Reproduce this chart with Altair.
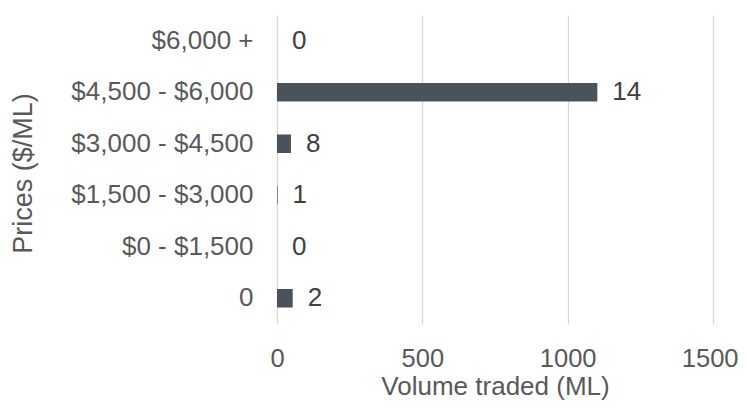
import altair as alt
import pandas as pd

categories = ["$6,000 +", "$4,500 - $6,000", "$3,000 - $4,500", "$1,500 - $3,000", "$0 - $1,500", "0"]
volume = [0, 1102, 48, 2, 0, 54]
trades = [0, 14, 8, 1, 0, 2]

df = pd.DataFrame({"price": categories, "volume": volume, "trades": trades})

FONT = "Liberation Sans"
FS = 26
PW, PH = 436, 309

y_enc = alt.Y(
    "price:N",
    sort=categories,
    scale=alt.Scale(paddingInner=0.64, paddingOuter=0.32),
    axis=alt.Axis(
        title="Prices ($/ML)",
        domain=False, ticks=False, grid=False,
        labelFont=FONT, labelFontSize=FS, labelColor="#595959", labelPadding=24,
        labelLimit=400,
        titleFont=FONT, titleFontSize=27, titleColor="#595959", titleFontWeight="normal",
        titleX=-254, titleY=158, titleAngle=270, titleAlign="center", titleBaseline="middle",
    ),
)

x_enc = alt.X(
    "volume:Q",
    scale=alt.Scale(domain=[0, 1500], nice=False),
    axis=alt.Axis(
        title="Volume traded (ML)",
        values=[0, 500, 1000, 1500], format="d",
        domain=False, ticks=False, grid=True, gridColor="#d9d9d9", gridWidth=1.3,
        labelFont=FONT, labelFontSize=25.5, labelColor="#595959", labelPadding=34,
        labelBaseline="middle", labelFlush=False, labelOverlap=False,
        labelAlign={"expr": "datum.value == 1500 ? 'right' : 'center'"},
        labelOffset={"condition": {"test": "datum.value == 1500", "value": 25}, "value": 0},
        titleFont=FONT, titleFontSize=FS, titleColor="#595959", titleFontWeight="normal",
        titleX=PW / 2, titleY=70, titleAlign="center", titleBaseline="alphabetic",
    ),
)

bars = alt.Chart(df).mark_bar(color="#4a535b").encode(x=x_enc, y=y_enc)

labels = alt.Chart(df).mark_text(
    align="left", baseline="middle", dx=15, font=FONT, fontSize=FS, color="#404040"
).encode(x="volume:Q", y=alt.Y("price:N", sort=categories), text="trades:Q")

chart = (
    alt.layer(bars, labels)
    .properties(
        width=PW, height=PH,
        autosize=alt.AutoSizeParams(type="none"),
        padding={"left": 269, "top": 7, "right": 26, "bottom": 76},
    )
    .configure_view(stroke=None)
)

chart.save("out.html", embed_options={"renderer": "svg", "actions": False})
